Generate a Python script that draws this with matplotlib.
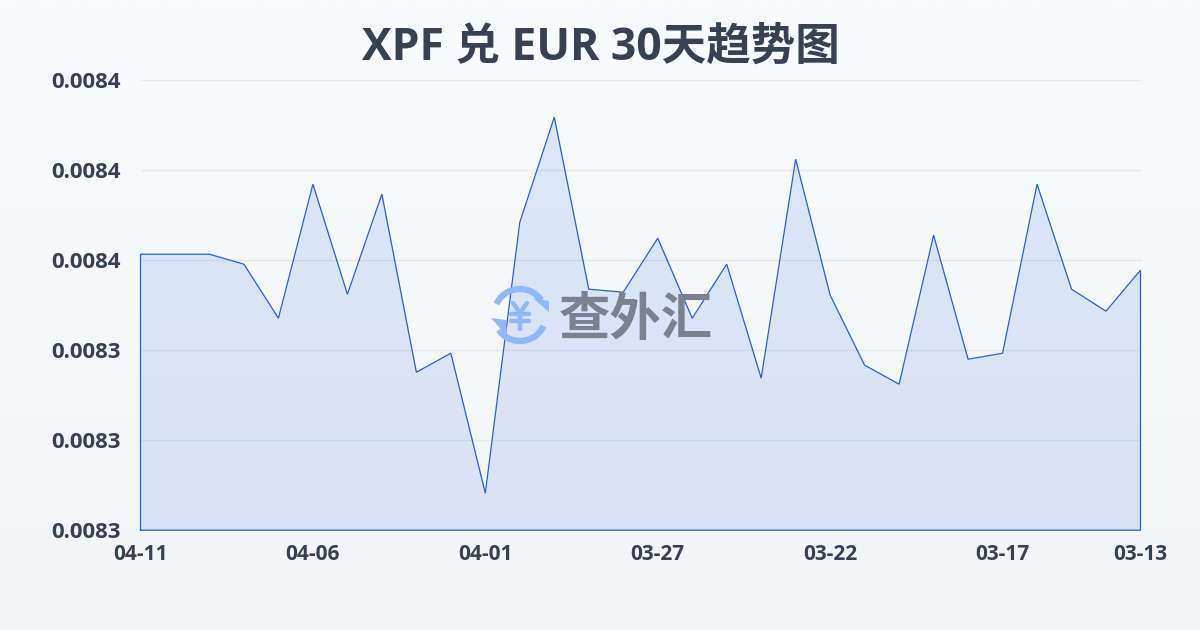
import numpy as np
import matplotlib
matplotlib.use("Agg")
import matplotlib.pyplot as plt
from matplotlib.patches import Arc, Polygon
from matplotlib.colors import LinearSegmentedColormap

FONT = ['Open Sans', 'Noto Sans CJK SC', 'DejaVu Sans']
plt.rcParams['font.family'] = FONT

title = "XPF 兑 EUR 30天趋势图"
watermark = "查外汇"
dates = ["04-11", "04-10", "04-09", "04-08", "04-07", "04-06", "04-05", "04-04", "04-03", "04-02",
         "04-01", "03-31", "03-30", "03-29", "03-28", "03-27", "03-26", "03-25", "03-24", "03-23",
         "03-22", "03-21", "03-20", "03-19", "03-18", "03-17", "03-16", "03-15", "03-14", "03-13"]
rates = [0.00836133, 0.00836133, 0.00836133, 0.00835911, 0.00834711, 0.00837689, 0.00835244,
         0.00837467, 0.00833511, 0.00833933, 0.00830822, 0.00836844, 0.00839178, 0.00835356,
         0.00835289, 0.00836489, 0.00834711, 0.00835911, 0.00833378, 0.00838244, 0.00835222,
         0.00833667, 0.00833244, 0.00836556, 0.00833800, 0.00833933, 0.00837689, 0.00835356,
         0.00834867, 0.00835778]
y_ticks = [0.0083, 0.00832, 0.00834, 0.00836, 0.00838, 0.0084]
x_tick_labels = ["04-11", "04-06", "04-01", "03-27", "03-22", "03-17", "03-13"]
x_tick_pos = [0, 5, 10, 15, 20, 25, 29]

W, H = 1200, 630
fig = plt.figure(figsize=(12, 6.3), dpi=100)

bg = fig.add_axes([0, 0, 1, 1], zorder=0)
bg.set_xlim(0, W); bg.set_ylim(H, 0); bg.axis('off')
cmap = LinearSegmentedColormap.from_list('bg', ['#f8fafc', '#f2f4f7'])
bg.imshow(np.linspace(0, 1, 256)[:, None], cmap=cmap, extent=[0, W, H, 0], aspect='auto')

ax = fig.add_axes([140.5 / W, 1 - 530.2 / H, 1000 / W, 450 / H], zorder=1)
ax.patch.set_alpha(0)
x = np.arange(len(rates))
ax.fill_between(x, rates, y_ticks[0], color='#2563eb', alpha=0.125, lw=0, zorder=2)
ax.plot(np.r_[x[0], x, x[-1], x[0]], np.r_[y_ticks[0], rates, y_ticks[0], y_ticks[0]],
        color='#2b5fc9', lw=0.9, zorder=3, solid_joinstyle='miter', clip_on=False)
ax.set_xlim(0, len(rates) - 1)
ax.set_ylim(y_ticks[0], y_ticks[-1])
ax.set_yticks(y_ticks)
ax.set_yticklabels([f"{v:.4f}" for v in y_ticks])
ax.set_xticks(x_tick_pos)
ax.set_xticklabels(x_tick_labels)
ax.grid(axis='y', color='#e5e7eb', lw=1, zorder=1)
ax.set_axisbelow(True)
for s in ax.spines.values():
    s.set_visible(False)
ax.tick_params(axis='both', length=0, labelcolor='#374151')
ax.tick_params(axis='y', pad=14, labelsize=16)
ax.tick_params(axis='x', pad=10, labelsize=15)
for t in ax.get_xticklabels() + ax.get_yticklabels():
    t.set_fontweight('bold')

top = fig.add_axes([0, 0, 1, 1], zorder=2)
top.set_xlim(0, W); top.set_ylim(H, 0); top.axis('off'); top.patch.set_alpha(0)
top.text(600.5, 48, title, ha='center', va='center', fontsize=32, fontweight='bold', color='#374151')

# watermark
blue = '#8fb8f8'
cx, cy, r = 520, 315, 26
top.add_patch(Arc((cx, cy), 2 * r, 2 * r, theta1=205, theta2=325, lw=4.5, color=blue))
top.add_patch(Arc((cx, cy), 2 * r, 2 * r, theta1=25, theta2=145, lw=4.5, color=blue))
top.add_patch(Polygon([[533, 298], [549, 301], [549, 312]], color=blue, lw=0))
top.add_patch(Polygon([[491, 318], [506, 320], [507, 336]], color=blue, lw=0))
for seg in ([(513, 303), (520, 313), (527, 303)], [(520, 313), (520, 329)],
            [(511, 314), (529, 314)], [(511, 321), (529, 321)]):
    top.plot(*zip(*seg), color=blue, lw=3.2, solid_capstyle='round', solid_joinstyle='round')
top.set_xlim(0, W); top.set_ylim(H, 0)
top.text(636, 319.5, watermark, ha='center', va='center', fontsize=37, fontweight='bold', color='#7b818f',
         family='Noto Sans CJK SC')

fig.savefig("out.png", dpi=100)
